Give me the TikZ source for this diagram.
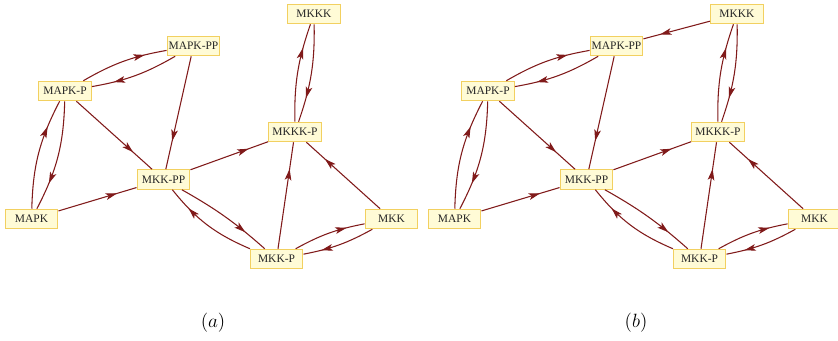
\documentclass[tikz,border=0pt]{standalone}
\usepackage{fontspec}
\setmainfont{Liberation Serif}
\usetikzlibrary{arrows.meta,decorations.markings}
\definecolor{edgecol}{RGB}{128,26,26}
\definecolor{boxfill}{RGB}{255,251,214}
\definecolor{boxdraw}{RGB}{242,208,96}
\tikzset{
  vbox/.style={rectangle, draw=boxdraw, fill=boxfill, line width=0.9pt,
    minimum width=39.5pt, minimum height=14.5pt, inner sep=0pt,
    font=\fontsize{8.6}{9}\selectfont, text=black!85},
  ed/.style={draw=edgecol, line width=0.8pt, postaction={decorate},
    decoration={markings, mark=at position 0.75 with {\arrow{Stealth[length=8.5pt,width=5pt,inset=2pt,color=edgecol]}}}},
  captext/.style={font=\fontsize{13.5}{15}\selectfont}
}
\newcommand\drawmapk[1]{%
  \node[vbox] (#1MKKK)   at (314,14)    {MKKK};
  \node[vbox] (#1MAPKPP) at (193.5,46)  {MAPK-PP};
  \node[vbox] (#1MAPKP)  at (65,91)     {MAPK-P};
  \node[vbox] (#1MKKKP)  at (295,132)   {MKKK-P};
  \node[vbox] (#1MKKPP)  at (163.5,179.5) {MKK-PP};
  \node[vbox] (#1MAPK)   at (31.5,219)  {MAPK};
  \node[vbox] (#1MKK)    at (391.5,219) {MKK};
  \node[vbox] (#1MKKP)   at (276.5,259) {MKK-P};
  \draw[ed] (#1MAPK) to[bend left=13] (#1MAPKP);
  \draw[ed] (#1MAPKP) to[bend left=13] (#1MAPK);
  \draw[ed] (#1MAPKP) to[bend left=10] (#1MAPKPP);
  \draw[ed] (#1MAPKPP) to[bend left=10] (#1MAPKP);
  \draw[ed] (#1MAPKP) -- (#1MKKPP);
  \draw[ed] (#1MAPKPP) -- (#1MKKPP);
  \draw[ed] (#1MAPK) -- (#1MKKPP);
  \draw[ed] (#1MKKPP) -- (#1MKKKP);
  \draw[ed] (#1MKKPP) to[bend left=6] (#1MKKP);
  \draw[ed] (#1MKKP) to[bend left=14] (#1MKKPP);
  \draw[ed] (#1MKKP) -- (#1MKKKP);
  \draw[ed] (#1MKK) -- (#1MKKKP);
  \draw[ed] (#1MKKP) to[bend left=9] (#1MKK);
  \draw[ed] (#1MKK) to[bend left=9] (#1MKKP);
  \draw[ed] (#1MKKKP) to[bend left=10] (#1MKKK);
  \draw[ed] (#1MKKK) to[bend left=10] (#1MKKKP);
}
\begin{document}
\begin{tikzpicture}[x=0.75pt,y=-0.75pt]
\useasboundingbox (0,0) rectangle (838,340);
\begin{scope}
  \drawmapk{a}
\end{scope}
\begin{scope}[xshift=317.25pt]
  \drawmapk{b}
  \draw[ed] (bMKKK) -- (bMAPKPP);
\end{scope}
\node[captext] (capa) at (213,323) {$(a)$};
\node[captext] (capb) at (636,323) {$(b)$};
\end{tikzpicture}
\end{document}
